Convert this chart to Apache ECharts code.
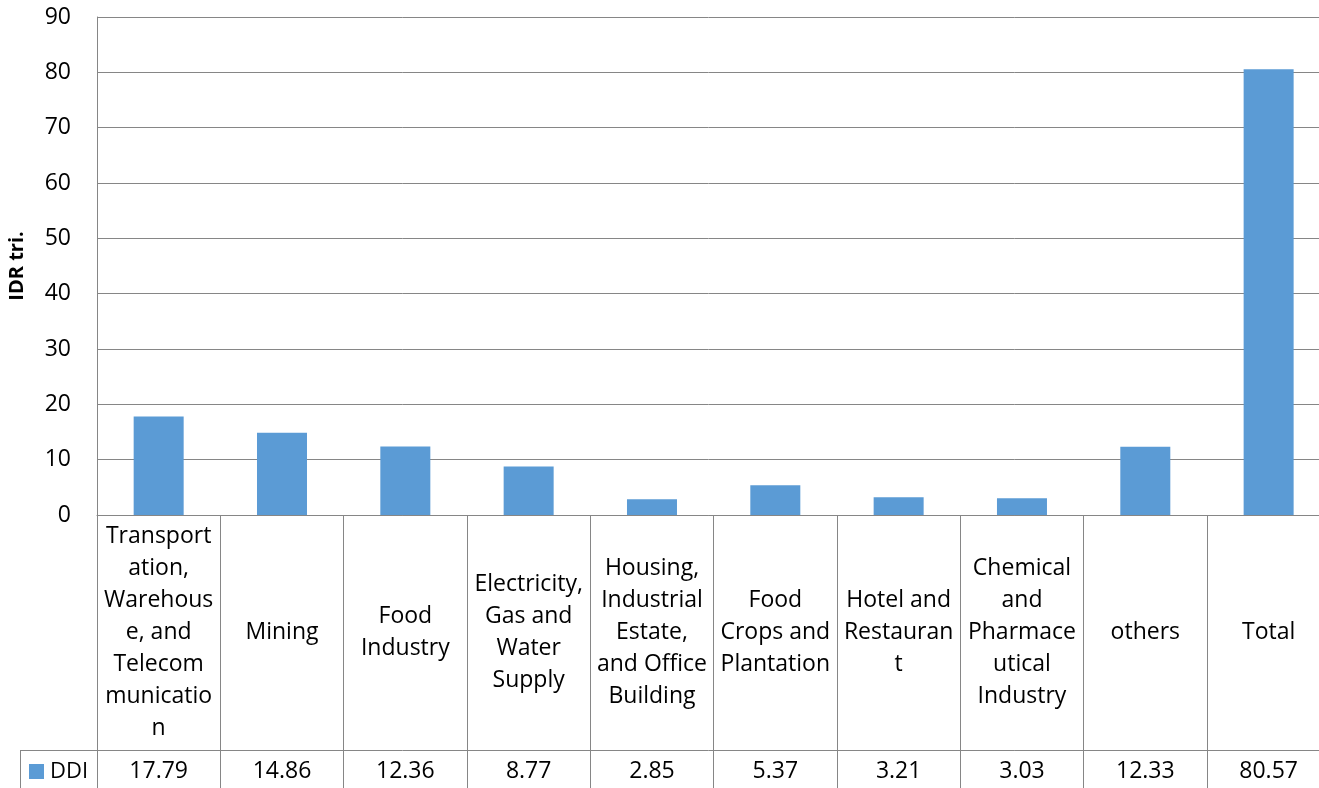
<!DOCTYPE html>
<html>
<head>
<meta charset="utf-8">
<script src="https://cdn.jsdelivr.net/npm/echarts@6/dist/echarts.min.js"></script>
<style>
html,body{margin:0;padding:0;background:#fff;}
#chart{width:1319px;height:788px;}
</style>
</head>
<body>
<div id="chart"></div>
<script>
const categories = [
  "Transportation, Warehouse, and Telecommunication",
  "Mining",
  "Food Industry",
  "Electricity, Gas and Water Supply",
  "Housing, Industrial Estate, and Office Building",
  "Food Crops and Plantation",
  "Hotel and Restaurant",
  "Chemical and Pharmaceutical Industry",
  "others",
  "Total"
];
const ddiValues = [17.79, 14.86, 12.36, 8.77, 2.85, 5.37, 3.21, 3.03, 12.33, 80.57];
const seriesName = "DDI";
const yAxisTitle = "IDR tri.";

const FONT = "Open Sans";
const LABEL_SIZE = 23;
const WRAP_WIDTH = 111;
const GRID = "#868686";

// Excel-style wrapping: break at spaces, split over-long words by character.
const ctx = document.createElement('canvas').getContext('2d');
ctx.font = LABEL_SIZE + 'px "' + FONT + '"';
const w = s => ctx.measureText(s).width;
function wrapLabel(text) {
  const words = text.split(' ');
  const lines = [];
  let cur = '';
  for (let word of words) {
    const cand = cur ? cur + ' ' + word : word;
    if (w(cand) <= WRAP_WIDTH) { cur = cand; continue; }
    if (cur) { lines.push(cur); cur = ''; }
    while (w(word) > WRAP_WIDTH) {
      let k = word.length - 1;
      while (k > 1 && w(word.slice(0, k)) > WRAP_WIDTH) k--;
      lines.push(word.slice(0, k));
      word = word.slice(k);
    }
    cur = word;
  }
  if (cur) lines.push(cur);
  return lines.join('\n');
}

function draw() {
  ctx.font = LABEL_SIZE + 'px "' + FONT + '"';
  const chart = echarts.init(document.getElementById('chart'));
  chart.setOption({
    animation: false,
    textStyle: { fontFamily: FONT },
    grid: { left: 97, top: 17, width: 1233.3, bottom: 273, containLabel: false, outerBoundsMode: 'none' },
    legend: {
      data: [seriesName],
      left: 29, top: 760, padding: 0,
      icon: 'rect', itemWidth: 15, itemHeight: 15, itemGap: 6,
      textStyle: { fontFamily: FONT, fontSize: 22, lineHeight: 23, color: '#000', padding: [0,0,0,1] }
    },
    xAxis: [
      {
        type: 'category',
        data: categories,
        position: 'bottom',
        axisLine: { show: true, lineStyle: { color: GRID, width: 1 } },
        axisTick: { show: true, interval: 0, length: 280, lineStyle: { color: GRID, width: 1 } },
        axisLabel: {
          interval: 0, margin: 117, verticalAlign: 'middle', lineHeight: 32,
          fontFamily: FONT, fontSize: LABEL_SIZE, color: '#000', align: 'center',
          formatter: v => wrapLabel(v)
        },
        splitLine: { show: false }
      },
      {
        type: 'category',
        data: categories,
        position: 'bottom',
        offset: 235,
        axisLine: { show: true, lineStyle: { color: GRID, width: 1 } },
        axisTick: { show: false },
        axisLabel: {
          interval: 0, margin: 21, verticalAlign: 'middle',
          fontFamily: FONT, fontSize: 23, color: '#000',
          formatter: (v, i) => ddiValues[i].toFixed(2)
        }
      }
    ],
    yAxis: {
      type: 'value',
      min: 0, max: 90, interval: 10,
      name: yAxisTitle,
      nameLocation: 'middle',
      nameGap: 70,
      nameRotate: 90,
      nameTextStyle: { fontFamily: FONT, fontSize: 20, fontWeight: 'bold', color: '#000' },
      axisLine: { show: true, lineStyle: { color: GRID, width: 1 } },
      axisTick: { show: false },
      axisLabel: { margin: 26, fontFamily: FONT, fontSize: 23, color: '#000' },
      splitLine: { show: true, lineStyle: { color: GRID, width: 1 } }
    },
    series: [{
      name: seriesName,
      type: 'bar',
      data: ddiValues,
      barWidth: 50,
      itemStyle: { color: '#5B9BD5' }
    }],
    graphic: [
      { type: 'line', shape: { x1: 20, y1: 750.5, x2: 97, y2: 750.5 }, style: { stroke: GRID, lineWidth: 1 } },
      { type: 'line', shape: { x1: 20.5, y1: 750, x2: 20.5, y2: 790 }, style: { stroke: GRID, lineWidth: 1 } }
    ]
  });
}
if (document.fonts && document.fonts.load) {
  document.fonts.load(LABEL_SIZE + 'px "' + FONT + '"').then(draw, draw);
} else { draw(); }
</script>
</body>
</html>
